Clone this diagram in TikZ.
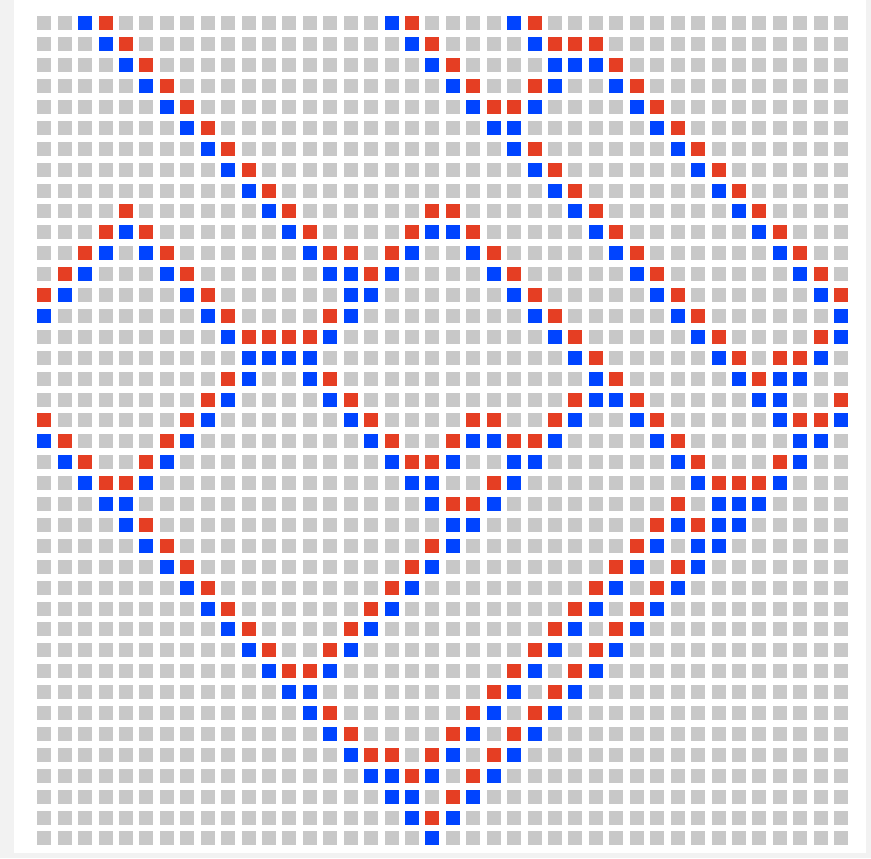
\documentclass[tikz,border=0pt]{standalone}
\usepackage{tikz}
\definecolor{cellgray}{RGB}{200,200,200}
\definecolor{cellred}{RGB}{229,62,35}
\definecolor{cellblue}{RGB}{0,68,255}
\definecolor{framebg}{RGB}{242,242,242}
\tikzset{
  graycell/.style={fill=cellgray},
  redcell/.style={fill=cellred},
  bluecell/.style={fill=cellblue},
}
% one square of the grid: style, column, row
\newcommand{\cellsq}[3]{%
  \path[#1] ({44.3+20.43*#2-7},{23.3+20.9*#3-7}) rectangle ++(14,14);
}

\begin{document}
\begin{tikzpicture}[x=0.03cm, y=-0.03cm]
    \useasboundingbox (0,0) rectangle (871,858);
    \fill[framebg] (0,0) rectangle (871,858);
    \fill[white] (14,0) rectangle (866,853);
    % empty grid
    \foreach \c in {0,...,39} {
      \foreach \r in {0,...,39} {
        \cellsq{graycell}{\c}{\r}
      }
    }
    % row / blue columns / red columns
    \foreach \r/\bl/\rd in {
        0/{2,17,23}/{3,18,24},
        1/{3,18,24}/{4,19,25,26,27},
        2/{4,19,25,26,27}/{5,20,28},
        3/{5,20,25,28}/{6,21,24,29},
        4/{6,21,24,29}/{7,22,23,30},
        5/{7,22,23,30}/{8,31},
        6/{8,23,31}/{9,24,32},
        7/{9,24,32}/{10,25,33},
        8/{10,25,33}/{11,26,34},
        9/{11,26,34}/{4,12,19,20,27,35},
        10/{4,12,19,20,27,35}/{3,5,13,18,21,28,36},
        11/{3,5,13,18,21,28,36}/{2,6,14,15,17,22,29,37},
        12/{2,6,14,15,17,22,29,37}/{1,7,16,23,30,38},
        13/{1,7,15,16,23,30,38}/{0,8,24,31,39},
        14/{0,8,15,24,31,39}/{9,14,25,32},
        15/{9,14,25,32,39}/{10,11,12,13,26,33,38},
        16/{10,11,12,13,26,33,38}/{27,34,36,37},
        17/{10,13,27,34,36,37}/{9,14,28,35},
        18/{9,14,27,28,35,36}/{8,15,26,29,39},
        19/{8,15,26,29,36,39}/{0,7,16,21,22,25,30,37,38},
        20/{0,7,16,21,22,25,30,37,38}/{1,6,17,20,23,24,31},
        21/{1,6,17,20,23,24,31,37}/{2,5,18,19,32,36},
        22/{2,5,18,19,23,32,36}/{3,4,22,33,34,35},
        23/{3,4,19,22,33,34,35}/{20,21,31},
        24/{4,20,21,31,33,34}/{5,30,32},
        25/{5,20,30,32,33}/{6,19,29},
        26/{6,19,29,32}/{7,18,28,31},
        27/{7,18,28,31}/{8,17,27,30},
        28/{8,17,27,30}/{9,16,26,29},
        29/{9,16,26,29}/{10,15,25,28},
        30/{10,15,25,28}/{11,14,24,27},
        31/{11,14,24,27}/{12,13,23,26},
        32/{12,13,23,26}/{22,25},
        33/{13,22,25}/{14,21,24},
        34/{14,21,24}/{15,20,23},
        35/{15,20,23}/{16,17,19,22},
        36/{16,17,19,22}/{18,21},
        37/{17,18,21}/{20},
        38/{18,20}/{19}} {
      \foreach \c in \bl {\cellsq{bluecell}{\c}{\r}}
      \foreach \c in \rd {\cellsq{redcell}{\c}{\r}}
    }
    % last row has only one
    \cellsq{bluecell}{19}{39}
\end{tikzpicture}
\end{document}
